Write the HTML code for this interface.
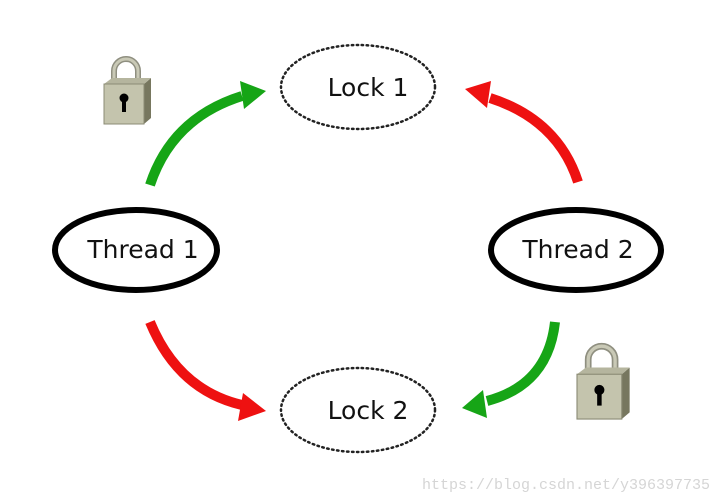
<!DOCTYPE html>
<html><head><meta charset="utf-8"><style>
html,body{margin:0;padding:0;background:#fff;width:720px;height:500px;overflow:hidden}
</style></head><body>
<svg width="720" height="500" viewBox="0 0 720 500" xmlns="http://www.w3.org/2000/svg">
<defs>
<g id="lock">
  <path d="M10,27 V14 A12,12 0 0 1 34,14 V27" fill="none" stroke="#8f8f80" stroke-width="6"/>
  <path d="M10,27 V14 A12,12 0 0 1 34,14 V27" fill="none" stroke="#c9c9b6" stroke-width="3"/>
  <polygon points="0,27 40,27 47,21 47,61 40,67 0,67" fill="#77775f"/>
  <polygon points="0,27 40,27 47,21 8,21" fill="#b5b59e"/>
  <rect x="0" y="27" width="40" height="40" fill="#c4c4ad" stroke="#8b8b75" stroke-width="1"/>
  <circle cx="20" cy="41" r="4.5" fill="#000"/>
  <rect x="18" y="41" width="4" height="14" fill="#000"/>
</g>
</defs>
<ellipse cx="358" cy="87" rx="77" ry="42" fill="none" stroke="#222" stroke-width="2.5" stroke-dasharray="1.5 3.5" stroke-linecap="round"/>
<ellipse cx="358" cy="410" rx="77" ry="42" fill="none" stroke="#222" stroke-width="2.5" stroke-dasharray="1.5 3.5" stroke-linecap="round"/>
<ellipse cx="136" cy="250" rx="81" ry="40" fill="none" stroke="#000" stroke-width="6"/>
<ellipse cx="576" cy="250" rx="85" ry="40" fill="none" stroke="#000" stroke-width="6"/>
<g font-family="'DejaVu Sans','Liberation Sans',sans-serif" font-size="25" fill="#111" text-anchor="middle">
<text x="368" y="96">Lock 1</text>
<text x="368" y="419">Lock 2</text>
<text x="143" y="258">Thread 1</text>
<text x="578" y="258">Thread 2</text>
</g>
<!-- arrows -->
<path d="M150,185 Q172,118 242,96" fill="none" stroke="#16a516" stroke-width="10"/>
<polygon points="266,91 240,81 244,109" fill="#16a516"/>
<path d="M578,182 Q558,120 490,98" fill="none" stroke="#ee1111" stroke-width="10"/>
<polygon points="465,89 491,81 487,108" fill="#ee1111"/>
<path d="M150,322 Q178,390 242,405" fill="none" stroke="#ee1111" stroke-width="10"/>
<polygon points="266,411 243,393 238,421" fill="#ee1111"/>
<path d="M555,322 Q548,385 487,401" fill="none" stroke="#16a516" stroke-width="10"/>
<polygon points="462,408 483,390 487,418" fill="#16a516"/>
<use href="#lock" x="104" y="57"/>
<use href="#lock" transform="translate(577,344) scale(1.12)"/>
<text x="710" y="489" text-anchor="end" font-family="'Liberation Mono',monospace" font-size="15" fill="#d5d5d5">https://blog.csdn.net/y396397735</text>
</svg>
</body></html>
